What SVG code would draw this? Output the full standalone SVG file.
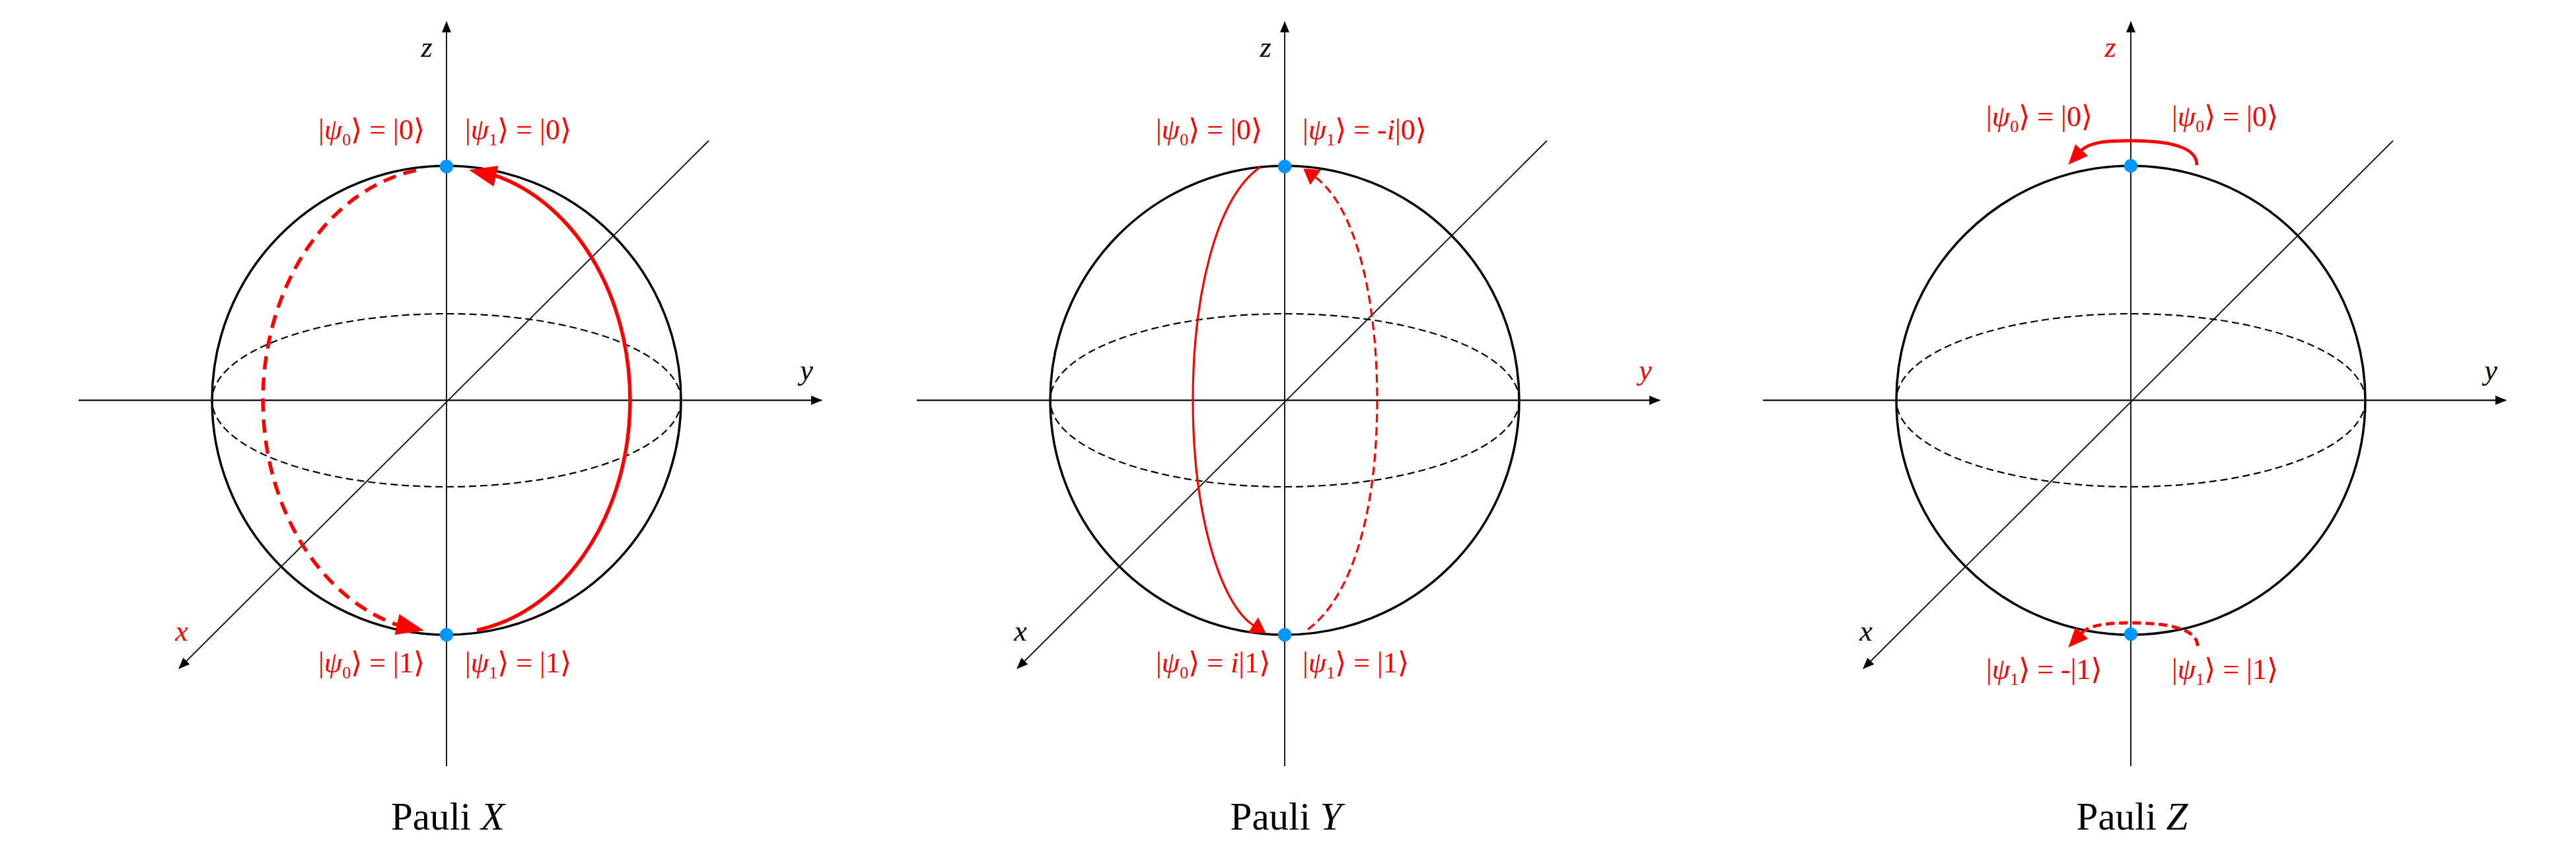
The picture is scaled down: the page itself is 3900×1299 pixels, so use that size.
<svg xmlns="http://www.w3.org/2000/svg" width="3900" height="1299" viewBox="0 0 3900 1299">
<style>
.bg{fill:#ffffff}
.sphere{fill:none;stroke:#000;stroke-width:3.5}
.equator{fill:none;stroke:#000;stroke-width:2.2;stroke-dasharray:11 6}
.axis{fill:none;stroke:#1a1a1a;stroke-width:2}
.haxis{fill:none;stroke:#1a1a1a;stroke-width:2.6}
.dot{fill:#0096ff}
.arc1{fill:none;stroke:#ff0000;stroke-width:5.5}
.arc2{fill:none;stroke:#ff0000;stroke-width:3.2}
.arc3{fill:none;stroke:#ff0000;stroke-width:4.8}
.d1{stroke-dasharray:20 12}
.d2{stroke-dasharray:13 7}
.d3{stroke-dasharray:13 7}
.lab{font-family:"Liberation Serif","DejaVu Serif","DejaVu Sans",serif;font-size:44px;fill:#ff0000}
.it{font-style:italic}
.sub{font-size:26px}
.ax{font-family:"Liberation Serif","DejaVu Serif",serif;font-style:italic;font-size:44px;text-anchor:middle}
.blk{fill:#000}
.red{fill:#ff0000}
.cap{font-family:"Liberation Serif","DejaVu Serif",serif;font-size:59px;fill:#000;text-anchor:middle}
</style>
<defs>
<marker id="axh" markerUnits="userSpaceOnUse" markerWidth="18" markerHeight="14" refX="16" refY="7" orient="auto" overflow="visible"><path d="M0,0 L17,7 L0,14 z" fill="#000"/></marker>
<marker id="h1" markerUnits="userSpaceOnUse" markerWidth="44" markerHeight="32" refX="1" refY="16" orient="auto" overflow="visible"><path d="M0,0 L42,16 L0,32 z" fill="#ff0000"/></marker>
<marker id="h2" markerUnits="userSpaceOnUse" markerWidth="26" markerHeight="28" refX="1" refY="14" orient="auto" overflow="visible"><path d="M0,0 L23,14 L0,28 z" fill="#ff0000"/></marker>
<marker id="h3" markerUnits="userSpaceOnUse" markerWidth="32" markerHeight="26" refX="1" refY="13" orient="auto" overflow="visible"><path d="M0,0 L30,13 L0,26 z" fill="#ff0000"/></marker>
</defs>
<rect class="bg" x="0" y="0" width="3900" height="1299"/>

<!-- Panel 1: Pauli X -->
<g id="pauli-x">
  <g id="px-sphere">
    <circle class="sphere" cx="676" cy="606" r="355"/>
    <ellipse class="equator" cx="676" cy="606" rx="355" ry="131"/>
  </g>
  <g id="px-axes">
    <line class="axis" x1="676" y1="1160" x2="676" y2="33" marker-end="url(#axh)"/>
    <line class="haxis" x1="119" y1="606" x2="1244" y2="606" marker-end="url(#axh)"/>
    <line class="axis" x1="1073" y1="213" x2="271" y2="1012" marker-end="url(#axh)"/>
    <text class="ax blk" x="646" y="86">z</text>
    <text class="ax blk" x="1221" y="575">y</text>
    <text class="ax red" x="275" y="970">x</text>
  </g>
  <g id="px-connectors">
    <path class="arc1" d="M722,954.1 A278,353 0 0 0 754,267.2 L750,266.3" marker-end="url(#h1)"/>
    <path class="arc1 d1" d="M630,257.9 A278,353 0 0 0 598,944.8 L602,945.7" marker-end="url(#h1)"/>
  </g>
  <g id="px-top"><circle class="dot" cx="676" cy="252" r="10.3"/></g>
  <g id="px-bottom"><circle class="dot" cx="676" cy="961" r="10.3"/></g>
  <text class="lab" x="482" y="211">|<tspan class="it">ψ</tspan><tspan class="sub" dy="9">0</tspan><tspan dy="-9">⟩ = |0⟩</tspan></text>
  <text class="lab" x="704" y="211">|<tspan class="it">ψ</tspan><tspan class="sub" dy="9">1</tspan><tspan dy="-9">⟩ = |0⟩</tspan></text>
  <text class="lab" x="482" y="1018">|<tspan class="it">ψ</tspan><tspan class="sub" dy="9">0</tspan><tspan dy="-9">⟩ = |1⟩</tspan></text>
  <text class="lab" x="704" y="1018">|<tspan class="it">ψ</tspan><tspan class="sub" dy="9">1</tspan><tspan dy="-9">⟩ = |1⟩</tspan></text>
  <text class="cap" x="678" y="1256">Pauli <tspan class="it">X</tspan></text>
</g>

<!-- Panel 2: Pauli Y -->
<g id="pauli-y">
  <g id="py-sphere">
    <circle class="sphere" cx="1945" cy="606" r="355"/>
    <ellipse class="equator" cx="1945" cy="606" rx="355" ry="131"/>
  </g>
  <g id="py-axes">
    <line class="axis" x1="1945" y1="1160" x2="1945" y2="33" marker-end="url(#axh)"/>
    <line class="haxis" x1="1388" y1="606" x2="2513" y2="606" marker-end="url(#axh)"/>
    <line class="axis" x1="2342" y1="213" x2="1540" y2="1012" marker-end="url(#axh)"/>
    <text class="ax blk" x="1916" y="86">z</text>
    <text class="ax red" x="2491" y="575">y</text>
    <text class="ax blk" x="1545" y="970">x</text>
  </g>
  <g id="py-connectors">
    <path class="arc2" d="M1908,253 C1840,300 1806,450 1806,606 C1806,780 1848,915 1898,947" marker-end="url(#h2)"/>
    <path class="arc2 d2" d="M1980,953 C2045,905 2085,780 2085,606 C2085,450 2052,312 1991,268" marker-end="url(#h2)"/>
  </g>
  <g id="py-top"><circle class="dot" cx="1945" cy="252" r="10.3"/></g>
  <g id="py-bottom"><circle class="dot" cx="1945" cy="961" r="10.3"/></g>
  <text class="lab" x="1750" y="211">|<tspan class="it">ψ</tspan><tspan class="sub" dy="9">0</tspan><tspan dy="-9">⟩ = |0⟩</tspan></text>
  <text class="lab" x="1972" y="211">|<tspan class="it">ψ</tspan><tspan class="sub" dy="9">1</tspan><tspan dy="-9">⟩ = -</tspan><tspan class="it">i</tspan>|0⟩</text>
  <text class="lab" x="1750" y="1018">|<tspan class="it">ψ</tspan><tspan class="sub" dy="9">0</tspan><tspan dy="-9">⟩ = </tspan><tspan class="it">i</tspan>|1⟩</text>
  <text class="lab" x="1972" y="1018">|<tspan class="it">ψ</tspan><tspan class="sub" dy="9">1</tspan><tspan dy="-9">⟩ = |1⟩</tspan></text>
  <text class="cap" x="1947" y="1256">Pauli <tspan class="it">Y</tspan></text>
</g>

<!-- Panel 3: Pauli Z -->
<g id="pauli-z">
  <g id="pz-sphere">
    <circle class="sphere" cx="3226" cy="606" r="355"/>
    <ellipse class="equator" cx="3226" cy="606" rx="355" ry="131"/>
  </g>
  <g id="pz-axes">
    <line class="axis" x1="3226" y1="1160" x2="3226" y2="33" marker-end="url(#axh)"/>
    <line class="haxis" x1="2669" y1="606" x2="3794" y2="606" marker-end="url(#axh)"/>
    <line class="axis" x1="3623" y1="213" x2="2821" y2="1012" marker-end="url(#axh)"/>
    <text class="ax red" x="3195" y="86">z</text>
    <text class="ax blk" x="3771" y="575">y</text>
    <text class="ax blk" x="2825" y="970">x</text>
  </g>
  <g id="pz-connectors">
    <path class="arc3" d="M3326,250 C3326,222 3282,213 3226,213 C3190,213 3163,215 3151,228" marker-end="url(#h3)"/>
    <path class="arc3 d3" d="M3327,978 C3327,952 3282,943 3226,943 C3190,943 3163,946 3151,959" marker-end="url(#h3)"/>
  </g>
  <g id="pz-top"><circle class="dot" cx="3226" cy="251" r="10.3"/></g>
  <g id="pz-bottom"><circle class="dot" cx="3226" cy="960" r="10.3"/></g>
  <text class="lab" x="3007" y="191">|<tspan class="it">ψ</tspan><tspan class="sub" dy="9">0</tspan><tspan dy="-9">⟩ = |0⟩</tspan></text>
  <text class="lab" x="3288" y="191">|<tspan class="it">ψ</tspan><tspan class="sub" dy="9">0</tspan><tspan dy="-9">⟩ = |0⟩</tspan></text>
  <text class="lab" x="3007" y="1028">|<tspan class="it">ψ</tspan><tspan class="sub" dy="9">1</tspan><tspan dy="-9">⟩ = -|1⟩</tspan></text>
  <text class="lab" x="3288" y="1028">|<tspan class="it">ψ</tspan><tspan class="sub" dy="9">1</tspan><tspan dy="-9">⟩ = |1⟩</tspan></text>
  <text class="cap" x="3228" y="1256">Pauli <tspan class="it">Z</tspan></text>
</g>
</svg>
